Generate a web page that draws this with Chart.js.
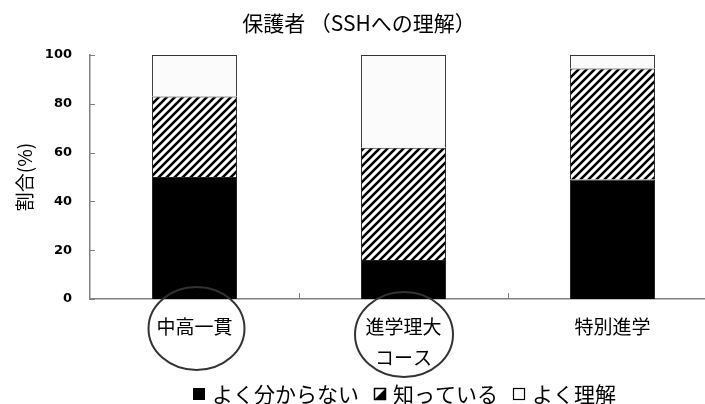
<!DOCTYPE html>
<html>
<head>
<meta charset="utf-8">
<script src="https://cdn.jsdelivr.net/npm/chart.js@4.4.1/dist/chart.umd.min.js"></script>
<style>
  html, body { margin: 0; padding: 0; background: #fff; overflow: hidden; }
  #wrap { width: 720px; height: 404px; }
</style>
</head>
<body>
<div id="wrap"><canvas id="chart" width="720" height="404"></canvas></div>
<script>
const chartTitle = '保護者 （SSHへの理解）';
const courses = ['中高一貫', ['進学理大', 'コース'], '特別進学'];
const notKnown = [50, 16, 49];      // よく分からない
const heardOf = [33, 46, 45.5];     // 知っている
const understand = [17, 38, 5.5];   // よく理解
const yTicks = [0, 20, 40, 60, 80, 100];
const seriesNames = ['よく分からない', '知っている', 'よく理解'];

const jpFont = '"Noto Sans CJK JP", "Noto Sans", sans-serif';

// diagonal stripe fill for the middle segment
function makeHatch() {
  const c = document.createElement('canvas');
  c.width = 8; c.height = 8;
  const g = c.getContext('2d');
  g.fillStyle = '#fff';
  g.fillRect(0, 0, 8, 8);
  g.strokeStyle = '#000';
  g.lineWidth = 2.6;
  g.beginPath();
  g.moveTo(0, 8); g.lineTo(8, 0);
  g.moveTo(-4, 4); g.lineTo(4, -4);
  g.moveTo(4, 12); g.lineTo(12, 4);
  g.stroke();
  return g.createPattern(c, 'repeat');
}
const hatch = makeHatch();

const extras = {
  id: 'extras',
  afterDraw(chart) {
    const ctx = chart.ctx;
    const x = chart.scales.x, y = chart.scales.y;
    const area = chart.chartArea;
    ctx.save();

    // inward tick marks
    ctx.strokeStyle = '#808080';
    ctx.lineWidth = 1;
    yTicks.forEach(v => {
      const py = Math.round(y.getPixelForValue(v)) + 0.5;
      ctx.beginPath();
      ctx.moveTo(area.left, py);
      ctx.lineTo(area.left + 5, py);
      ctx.stroke();
    });
    for (let i = 0; i < courses.length - 1; i++) {
      const px = Math.round((x.getPixelForValue(i) + x.getPixelForValue(i + 1)) / 2) + 0.5;
      ctx.beginPath();
      ctx.moveTo(px, area.bottom);
      ctx.lineTo(px, area.bottom - 6);
      ctx.stroke();
    }

    // circled labels
    ctx.strokeStyle = '#333';
    ctx.lineWidth = 2;
    [[0, 2, 29.5, 48, 41.5], [1, 0.5, 35.5, 49, 42.5]].forEach(([i, dx, dy, rx, ry]) => {
      ctx.beginPath();
      ctx.ellipse(x.getPixelForValue(i) + dx, area.bottom + dy, rx, ry, 0, 0, Math.PI * 2);
      ctx.stroke();
    });

    // title
    ctx.fillStyle = '#000';
    ctx.font = '21px ' + jpFont;
    ctx.textAlign = 'center';
    ctx.textBaseline = 'middle';
    ctx.fillText(chartTitle, 359, 23);

    // legend
    ctx.font = '21px ' + jpFont;
    ctx.textAlign = 'left';
    let lx = 193;
    const ly = 394;
    seriesNames.forEach((name, i) => {
      const bx = lx + 0.5, by = ly - 6 + 0.5;
      ctx.lineWidth = 1;
      ctx.strokeStyle = '#000';
      if (i === 0) {
        ctx.fillStyle = '#000';
        ctx.fillRect(lx, ly - 6, 12, 12);
      } else if (i === 1) {
        ctx.fillStyle = '#000';
        ctx.beginPath();
        ctx.moveTo(lx, ly + 6); ctx.lineTo(lx + 12, ly - 6); ctx.lineTo(lx + 12, ly + 6);
        ctx.closePath();
        ctx.fill();
        ctx.lineWidth = 1.5;
        ctx.strokeRect(bx, by, 11, 11);
      } else {
        ctx.lineWidth = 1.2;
        ctx.strokeRect(bx, by, 11, 11);
      }
      ctx.fillStyle = '#000';
      ctx.fillText(name, lx + 19, ly);
      lx += 19 + ctx.measureText(name).width + 15;
    });
    ctx.restore();
  }
};

new Chart(document.getElementById('chart'), {
  type: 'bar',
  data: {
    labels: courses,
    datasets: [
      { label: seriesNames[0], data: notKnown, backgroundColor: '#000', borderColor: '#222', borderWidth: 1 },
      { label: seriesNames[1], data: heardOf, backgroundColor: hatch, borderColor: '#222', borderWidth: 1 },
      { label: seriesNames[2], data: understand, backgroundColor: '#fbfbfb', borderColor: '#333', borderWidth: 1 }
    ]
  },
  options: {
    responsive: false,
    animation: false,
    layout: { padding: { top: 55, right: 3, left: 0, bottom: 0 } },
    datasets: { bar: { categoryPercentage: 1, barPercentage: 0.407 } },
    plugins: {
      legend: { display: false },
      title: { display: false },
      tooltip: { enabled: false }
    },
    scales: {
      x: {
        stacked: true,
        afterFit: s => { s.height = 105; },
        grid: { display: false, drawTicks: false },
        border: { display: true, color: '#808080', width: 1.5 },
        ticks: {
          color: '#000',
          padding: 12.5,
          maxRotation: 0,
          font: { family: jpFont, size: 19, lineHeight: 1.63 }
        }
      },
      y: {
        stacked: true,
        min: 0,
        max: 100,
        afterFit: s => { s.width = 90; },
        afterBuildTicks: s => { s.ticks = yTicks.map(v => ({ value: v })); },
        grid: { display: false, drawTicks: false },
        border: { display: true, color: '#808080', width: 1.5 },
        ticks: {
          color: '#000',
          padding: 18,
          font: { family: '"DejaVu Sans", sans-serif', size: 13, weight: 'bold' }
        },
        title: {
          display: true,
          text: '割合(%)',
          color: '#000',
          padding: { top: 13, bottom: 0 },
          font: { family: jpFont, size: 19 }
        }
      }
    }
  },
  plugins: [extras]
});
</script>
</body>
</html>
